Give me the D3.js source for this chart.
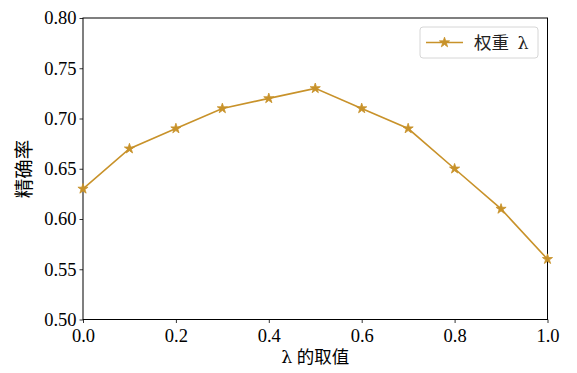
<!doctype html>
<html>
<head>
<meta charset="utf-8">
<script src="https://cdn.jsdelivr.net/npm/d3@7"></script>
<style>
  body { margin: 0; background: #fff; }
  text { font-family: "Liberation Serif", "Noto Sans CJK SC", serif; }
</style>
</head>
<body>
<div id="main"></div>
<script>
var lambdas = [0.0, 0.1, 0.2, 0.3, 0.4, 0.5, 0.6, 0.7, 0.8, 0.9, 1.0];
var precision = [0.63, 0.67, 0.69, 0.71, 0.72, 0.73, 0.71, 0.69, 0.65, 0.61, 0.56];
var xTicks = [0.0, 0.2, 0.4, 0.6, 0.8, 1.0];
var yTicks = [0.50, 0.55, 0.60, 0.65, 0.70, 0.75, 0.80];
var seriesName = ["权重 ", "λ"];
var xLabel = ["λ", " 的取值"];
var yLabel = "精确率";

var W = 577, H = 373;
var margin = {top: 18, right: 29.5, bottom: 53.5, left: 83};
var color = "#c8922a";
var serif = '"Liberation Serif", serif';
var greek = '"DejaVu Serif", "Liberation Serif", serif';

var svg = d3.select('#main').append('svg')
  .attr('width', W).attr('height', H);

var x = d3.scaleLinear().domain([0, 1]).range([margin.left, W - margin.right]);
var y = d3.scaleLinear().domain([0.5, 0.8]).range([H - margin.bottom, margin.top]);

// 坐标轴
var xAxis = d3.axisBottom(x).tickValues(xTicks).tickFormat(d3.format('.1f')).tickSizeOuter(0).tickSize(3.5).tickPadding(2);
var yAxis = d3.axisLeft(y).tickValues(yTicks).tickFormat(d3.format('.2f')).tickSizeOuter(0).tickSize(3.5).tickPadding(3);

var gx = svg.append('g').attr('transform', 'translate(0,' + (H - margin.bottom) + ')').call(xAxis);
var gy = svg.append('g').attr('transform', 'translate(' + margin.left + ',0)').call(yAxis);
[gx, gy].forEach(function(g) {
  g.attr('font-family', null).attr('font-size', null);
  g.selectAll('text').style('font-size', '18.5px').attr('fill', '#000')
    .style('font-family', serif);
  g.selectAll('line').attr('stroke', '#000').attr('stroke-width', 0.8);
  g.select('.domain').remove();
});
gx.selectAll('text').attr('dy', '0.9em');

// 边框
svg.append('rect')
  .attr('x', margin.left).attr('y', margin.top)
  .attr('width', W - margin.left - margin.right)
  .attr('height', H - margin.top - margin.bottom)
  .attr('fill', 'none').attr('stroke', '#000').attr('stroke-width', 1);

// 折线
var line = d3.line().x(function(d, i) { return x(lambdas[i]); }).y(function(d) { return y(d); });
svg.append('path').datum(precision)
  .attr('d', line).attr('fill', 'none')
  .attr('stroke', color).attr('stroke-width', 1.6);

var star = d3.symbol().type(d3.symbolStar).size(32);
svg.selectAll('.pt').data(precision).enter().append('path')
  .attr('class', 'pt')
  .attr('d', star)
  .attr('transform', function(d, i) { return 'translate(' + x(lambdas[i]) + ',' + y(d) + ')'; })
  .attr('fill', color).attr('stroke', color).attr('stroke-width', 0.8);

// 图例
var lg = svg.append('g').attr('transform', 'translate(420,27)');
lg.append('rect').attr('width', 118).attr('height', 31).attr('rx', 3)
  .attr('fill', '#fff').attr('stroke', '#d6d6d6').attr('stroke-width', 1);
lg.append('line').attr('x1', 6).attr('x2', 43).attr('y1', 15.5).attr('y2', 15.5)
  .attr('stroke', color).attr('stroke-width', 1.6);
lg.append('path').attr('d', star).attr('transform', 'translate(24.5,15.5)')
  .attr('fill', color).attr('stroke', color).attr('stroke-width', 0.8);
var lt = lg.append('text').attr('x', 54).attr('y', 21.5).style('font-size', '17.5px').attr('fill', '#222');
lt.append('tspan').text(seriesName[0]);
lt.append('tspan').attr('dx', 4).style('font-family', greek).text(seriesName[1]);

// 轴标题
var xt = svg.append('text').attr('x', (margin.left + W - margin.right) / 2).attr('y', 363)
  .attr('text-anchor', 'middle').style('font-size', '17.5px');
xt.append('tspan').style('font-family', greek).text(xLabel[0]);
xt.append('tspan').text(xLabel[1]);
svg.append('text')
  .attr('transform', 'translate(31,169) rotate(-90)')
  .attr('text-anchor', 'middle').style('font-size', '19.5px').text(yLabel);
</script>
</body>
</html>
